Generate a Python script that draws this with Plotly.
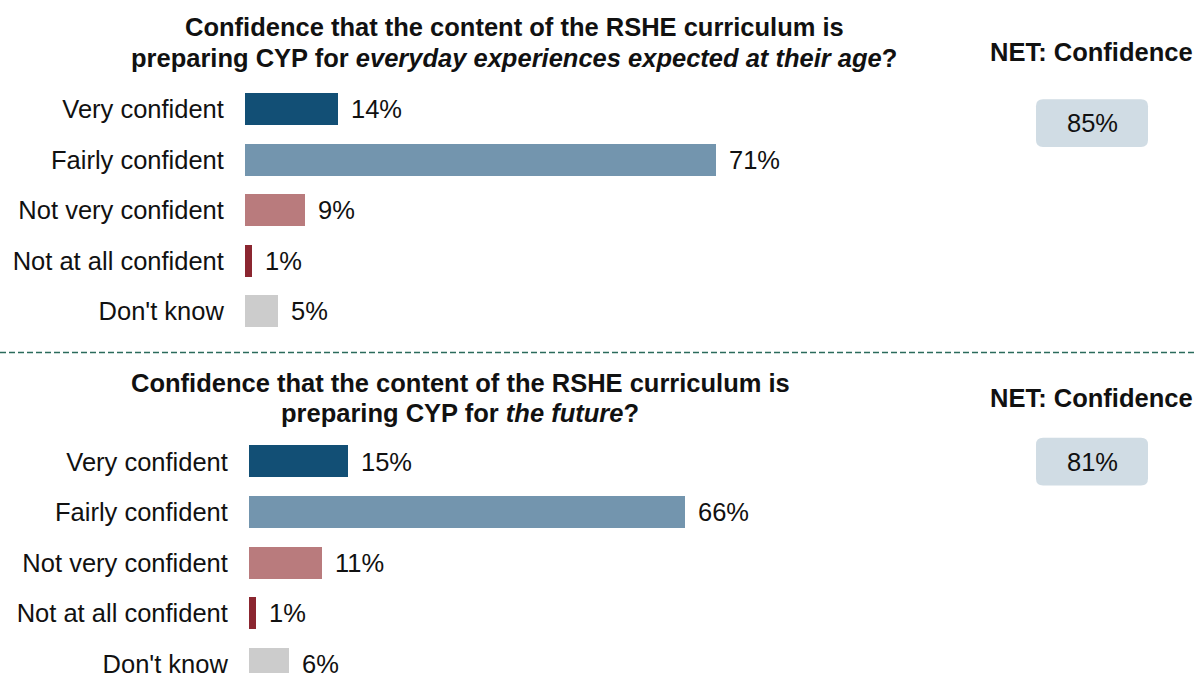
import plotly.graph_objects as go

# Survey responses (percent of respondents)
categories = ["Very confident", "Fairly confident", "Not very confident",
              "Not at all confident", "Don't know"]
everyday_values = [14, 71, 9, 1, 5]
future_values = [15, 66, 11, 1, 6]
bar_colors = ["#124f75", "#7395ae", "#b97b7d", "#8b2630", "#cccccc"]

title_top = ["Confidence that the content of the RSHE curriculum is",
             "preparing CYP for <i>everyday experiences expected at their age</i>?"]
title_bottom = ["Confidence that the content of the RSHE curriculum is",
                "preparing CYP for <i>the future</i>?"]
net_heading = "NET: Confidence"

W, H = 1196, 678
FONT = "Liberation Sans, Arial, sans-serif"
FS = 25.5


def px(x):
    return x / W


def py(y):
    return 1 - y / H


fig = go.Figure()

panels = [
    dict(vals=everyday_values, xa="x", ya="y"),
    dict(vals=future_values, xa="x2", ya="y2"),
]

for p in panels:
    fig.add_trace(go.Bar(
        x=p["vals"], y=categories, orientation="h",
        marker=dict(color=bar_colors, line=dict(width=0)),
        width=0.63, xaxis=p["xa"], yaxis=p["ya"],
        hoverinfo="skip", showlegend=False,
    ))
    for v, c in zip(p["vals"], categories):
        fig.add_annotation(
            x=v, y=c, xref=p["xa"], yref=p["ya"], text=f"{v}%",
            showarrow=False, xanchor="left", xshift=11,
            font=dict(family=FONT, size=FS, color="#111111"),
        )

axis_font = dict(family=FONT, size=FS, color="#111111")

row_px = 51
bottom_top = 439.5
bottom_range_top = (H - bottom_top) / row_px - 0.5

fig.update_layout(
    width=W, height=H,
    margin=dict(l=0, r=0, t=0, b=0),
    paper_bgcolor="white", plot_bgcolor="white",
    bargap=0,
    xaxis=dict(domain=[px(245), px(245 + 663)], range=[0, 100],
               visible=False, fixedrange=True),
    yaxis=dict(domain=[py(339), py(84.5)], categoryorder="array",
               categoryarray=categories, range=[4.5, -0.5],
               showgrid=False, zeroline=False, showline=False,
               ticks="outside", ticklen=15, tickcolor="rgba(0,0,0,0)",
               tickfont=axis_font, anchor="x"),
    xaxis2=dict(domain=[px(249), px(249 + 661)], range=[0, 100],
                visible=False, fixedrange=True, anchor="y2"),
    yaxis2=dict(domain=[0, py(bottom_top)], categoryorder="array",
                categoryarray=categories, range=[bottom_range_top, -0.5],
                showgrid=False, zeroline=False, showline=False,
                ticks="outside", ticklen=15, tickcolor="rgba(0,0,0,0)",
                tickfont=axis_font, anchor="x2"),
)

# Panel titles
for (lines, cx, ys) in [(title_top, 514, (27, 58)), (title_bottom, 460, (386, 416))]:
    for text, yy in zip(lines, ys):
        fig.add_annotation(
            x=px(cx), y=py(yy), xref="paper", yref="paper",
            text=f"<b>{text}</b>", showarrow=False,
            xanchor="center", yanchor="middle",
            font=dict(family=FONT, size=FS, color="#111111"),
        )

# NET headings and rounded value boxes
for vals, head_y, box_top in [(everyday_values, 52, 100), (future_values, 401, 441)]:
    net = vals[0] + vals[1]
    fig.add_annotation(
        x=px(1091), y=py(head_y), xref="paper", yref="paper",
        text=f"<b>{net_heading}</b>", showarrow=False,
        xanchor="center", yanchor="middle",
        font=dict(family=FONT, size=FS, color="#111111"),
    )
    x0, x1 = 1036, 1148
    y0, y1 = box_top, box_top + 48
    w, h, r = x1 - x0, y1 - y0, 7

    def P(x, y):
        return f"{px(x0 + x):.5f},{py(y0 + y):.5f}"

    path = (f"M {P(r,0)} L {P(w-r,0)} Q {P(w,0)} {P(w,r)} L {P(w,h-r)} "
            f"Q {P(w,h)} {P(w-r,h)} L {P(r,h)} Q {P(0,h)} {P(0,h-r)} "
            f"L {P(0,r)} Q {P(0,0)} {P(r,0)} Z")
    fig.add_shape(type="path", path=path, xref="paper", yref="paper",
                  fillcolor="#d0dce4", line=dict(width=0), layer="below")
    fig.add_annotation(
        x=px((x0 + x1) / 2), y=py((y0 + y1) / 2), xref="paper", yref="paper",
        text=f"{net}%", showarrow=False, xanchor="center", yanchor="middle",
        font=dict(family=FONT, size=FS, color="#111111"),
    )

# Dashed divider between the two questions
fig.add_shape(type="line", xref="paper", yref="paper",
              x0=0, x1=1, y0=py(355), y1=py(355),
              line=dict(color="#2b6b5c", width=1.5, dash="6px,3px"))

fig.write_html("out.html")
